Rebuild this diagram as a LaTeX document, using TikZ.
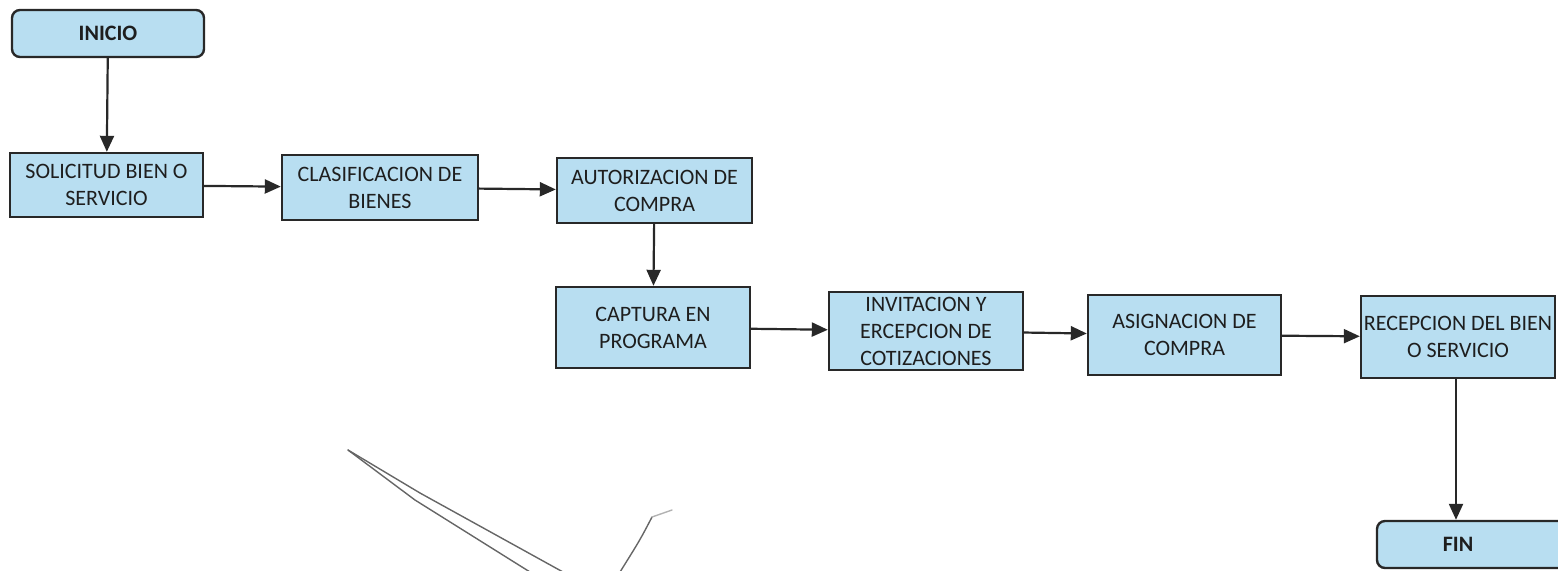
\documentclass[tikz,border=0pt]{standalone}
\usepackage{fontspec}
\setmainfont{Carlito}
\usetikzlibrary{arrows.meta}
\definecolor{cajaazul}{RGB}{184,222,241}
\definecolor{bordegris}{RGB}{40,40,40}
\definecolor{tinta}{RGB}{30,30,30}
\tikzset{
	paso/.style={draw=bordegris, line width=1.2pt, fill=cajaazul, text=tinta, align=center,
		font=\fontsize{11}{13.5}\selectfont, inner sep=0pt},
	terminal/.style={paso, rounded corners=4pt, font=\fontsize{11}{13.5}\selectfont\bfseries},
	flecha/.style={draw=bordegris, line width=1.1pt, -{Triangle[length=8pt,width=7pt]}},
	firma/.style={draw=black!60, line width=0.7pt, line cap=round}
}
\begin{document}
\begin{tikzpicture}[x=0.5pt,y=-0.5pt]
		\useasboundingbox (0,0) rectangle (1558,570);
		\node [terminal, minimum width=96pt, minimum height=23.5pt] (inicio) at (108,33.5) {INICIO};
		\node [paso, minimum width=96.5pt, minimum height=32pt] (solicitud) at (106.5,185) {SOLICITUD BIEN O\\SERVICIO};
		\node [paso, minimum width=98pt, minimum height=32.5pt] (clasificacion) at (380,187.5) {CLASIFICACION DE\\BIENES};
		\node [paso, minimum width=97.5pt, minimum height=32.5pt] (autorizacion) at (654.5,190.5) {AUTORIZACION DE\\COMPRA};
		\node [paso, minimum width=97pt, minimum height=40.5pt] (captura) at (653,327.5) {CAPTURA EN\\PROGRAMA};
		\node [paso, minimum width=97pt, minimum height=39pt] (invitacion) at (926,331) {INVITACION Y\\ERCEPCION DE\\COTIZACIONES};
		\node [paso, minimum width=96.5pt, minimum height=40pt] (asignacion) at (1184.5,335) {ASIGNACION DE\\COMPRA};
		\node [paso, minimum width=97pt, minimum height=41pt] (recepcion) at (1458,337) {RECEPCION DEL BIEN\\O SERVICIO};
		\node [terminal, minimum width=98pt, minimum height=23.5pt, text width=96pt] (fin) at (1475,544.5) {\hspace*{-17pt}FIN};
		% conectores
		\draw [flecha] (inicio) -- (solicitud);
		\draw [flecha] (solicitud) -- (clasificacion);
		\draw [flecha] (clasificacion) -- (autorizacion);
		\draw [flecha] (autorizacion) -- (captura);
		\draw [flecha] (captura) -- (invitacion);
		\draw [flecha] (invitacion) -- (asignacion);
		\draw [flecha] (asignacion) -- (recepcion);
		\draw [flecha] (recepcion.south -| fin.north) ++(-19,0) coordinate (r) -- (r |- fin.north);
		% trazo a mano
		\draw [firma] (348,450) -- (420,493) -- (563,572);
		\draw [firma] (348,450) -- (415,500) -- (530,572);
		\draw [firma] (652,517) .. controls (640,540) .. (620,572);
		\draw [firma, black!30] (652,517) -- (672,510);
	\end{tikzpicture}
\end{document}
